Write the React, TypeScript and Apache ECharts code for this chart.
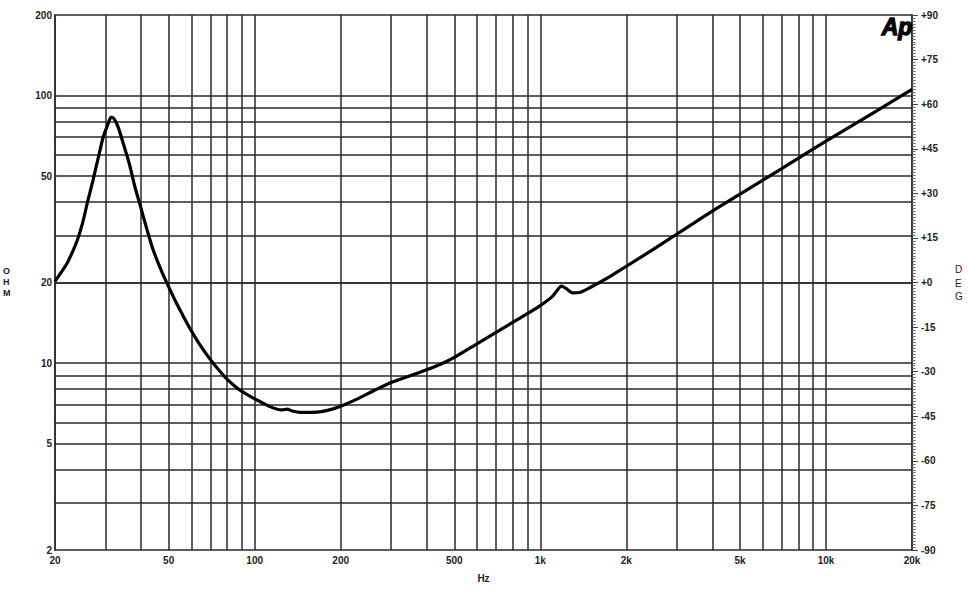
import { useEffect, useRef } from "react";
import * as echarts from "echarts";

// Impedance curve (Hz -> Ohm)
const freqHz = [20,21,22,23.2,24,25,26,27.2,28.5,29.5,30.5,31.5,32.3,33.3,34.7,36.5,38,39.7,42,44.1,47,49.3,53,56,59.5,64,70,75,80,87,96.5,105,112,120,125,130,135,144,165,180,199,230,260,299,340,402,447,500,600,700,800,900,1000,1100,1150,1185,1230,1300,1380,1500,1750,2000,2500,3000,4000,5000,7000,10000,15000,20000];
const impedanceOhm = [20.2,21.8,23.5,26.5,29,33.5,40,48.5,60,70,77,83,81.5,76,66,55,46,39,31.5,26.5,22.3,19.9,16.9,15.1,13.4,11.8,10.3,9.4,8.7,8.05,7.5,7.15,6.9,6.72,6.68,6.72,6.62,6.54,6.55,6.65,6.88,7.36,7.86,8.44,8.86,9.46,9.9,10.5,11.8,13.03,14.18,15.3,16.4,17.7,18.8,19.4,19,18.3,18.4,19.2,21.05,23,26.7,30.3,37,42.8,53.3,67.5,87.4,105.5];

// Tick labels
const xLabelValues = [20,50,100,200,500,1000,2000,5000,10000,20000];
const yLabelValues = [2,5,10,20,50,100,200];
const phaseMin = -90;
const phaseMax = 90;
const phaseStep = 15;

// Grid lines
const xGridValues = [30,40,50,60,70,80,90,100,200,300,400,500,600,700,800,900,1000,2000,3000,4000,5000,6000,7000,8000,9000,10000];
const yGridValues = [3,4,5,6,7,8,9,10,20,30,40,50,60,70,80,90,100];

const TEXT = "#222";
const LINE = "#2a2a2a";
const FONT = "Liberation Sans, Arial, sans-serif";

const fmtHz = (v: number) => (v >= 1000 ? `${Math.round(v / 1000)}k` : `${Math.round(v)}`);

export default function App() {
  const ref = useRef<HTMLDivElement>(null);
  useEffect(() => {
    document.body.style.margin = "0";
    if (!ref.current) return;
    const chart = echarts.init(ref.current, undefined, { renderer: "svg" });
    const labelStyle = { color: TEXT, fontSize: 10, fontWeight: "bold" as const, fontFamily: FONT };
    chart.setOption({
      animation: false,
      backgroundColor: "#fff",
      grid: { left: 55, right: 56, top: 15, bottom: 50, show: true, borderColor: LINE, borderWidth: 1.5, backgroundColor: "transparent" },
      xAxis: {
        type: "log",
        logBase: 10,
        min: 20,
        max: 20000,
        name: "Hz",
        nameLocation: "middle",
        nameGap: 23,
        nameTextStyle: { ...labelStyle },
        axisLine: { show: true, lineStyle: { color: LINE, width: 1.5 } },
        axisTick: { show: false },
        splitLine: { show: false },
        minorSplitLine: { show: false },
        axisLabel: { ...labelStyle, margin: 5, customValues: xLabelValues, formatter: (v: number) => fmtHz(v), showMinLabel: true, showMaxLabel: true },
      },
      yAxis: [
        {
          type: "log",
          logBase: 10,
          min: 2,
          max: 200,
          position: "left",
          axisLine: { show: true, lineStyle: { color: LINE, width: 1.5 } },
          axisTick: { show: false },
          splitLine: { show: false },
          axisLabel: { ...labelStyle, margin: 3, customValues: yLabelValues, formatter: (v: number) => `${Math.round(v)}`, showMinLabel: true, showMaxLabel: true },
        },
        {
          type: "value",
          min: phaseMin,
          max: phaseMax,
          interval: phaseStep,
          position: "right",
          axisLine: { show: true, lineStyle: { color: LINE, width: 1.5 } },
          axisTick: { show: true, length: 6, lineStyle: { color: "#444", width: 1 } },
          minorTick: { show: true, splitNumber: 15, length: 3.5, lineStyle: { color: "#666", width: 1 } },
          splitLine: { show: false },
          axisLabel: { ...labelStyle, margin: 9, formatter: (v: number) => (v >= 0 ? `+${v}` : `${v}`) },
        },
      ],
      series: [
        {
          type: "line",
          name: "grid",
          data: [],
          z: 1,
          silent: true,
          markLine: {
            silent: true,
            z: 1,
            symbol: ["none", "none"],
            label: { show: false },
            emphasis: { disabled: true },
            lineStyle: { color: LINE, width: 1.5, type: "solid" },
            data: [
              ...xGridValues.map((v) => ({ xAxis: v })),
              ...yGridValues.map((v) => ({ yAxis: v })),
            ],
          },
        },
        {
          type: "line",
          name: "Impedance",
          z: 10,
          data: freqHz.map((f, i) => [f, impedanceOhm[i]]),
          showSymbol: false,
          smooth: 0.3,
          lineStyle: { color: "#000", width: 3.2 },
        },
      ],
      graphic: [
        { type: "text", left: 881, top: 15, z: 20, style: { text: "Ap", fontSize: 23, fontWeight: 900, fontStyle: "italic", fontFamily: FONT, fill: "#000", stroke: "#000", lineWidth: 1.3 } },
        { type: "text", left: 3, top: 265, style: { text: "O\nH\nM", fontSize: 9, fontWeight: "bold", fontFamily: FONT, fill: TEXT, lineHeight: 11, align: "center" } },
        { type: "text", left: 955, top: 263, style: { text: "D\nE\nG", fontSize: 10, fontWeight: "normal", fontFamily: FONT, fill: TEXT, lineHeight: 13.5, align: "center" } },
      ],
    });
    return () => chart.dispose();
  }, []);
  return <div ref={ref} style={{ width: 968, height: 600 }} />;
}
